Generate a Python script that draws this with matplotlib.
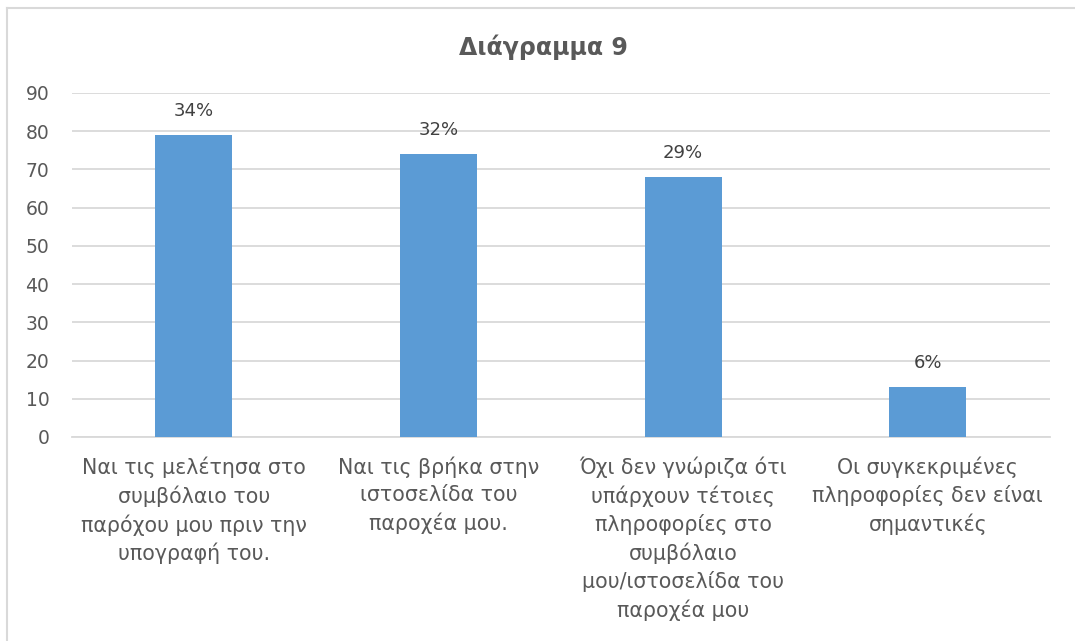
import matplotlib.pyplot as plt
from matplotlib.lines import Line2D

categories = [
    "Ναι τις μελέτησα στο\nσυμβόλαιο του\nπαρόχου μου πριν την\nυπογραφή του.",
    "Ναι τις βρήκα στην\nιστοσελίδα του\nπαροχέα μου.",
    "Όχι δεν γνώριζα ότι\nυπάρχουν τέτοιες\nπληροφορίες στο\nσυμβόλαιο\nμου/ιστοσελίδα του\nπαροχέα μου",
    "Οι συγκεκριμένες\nπληροφορίες δεν είναι\nσημαντικές",
]
counts = [79, 74, 68, 13]
percent_labels = ["34%", "32%", "29%", "6%"]
yticks = [0, 10, 20, 30, 40, 50, 60, 70, 80, 90]

plt.rcParams['font.family'] = ['DejaVu Sans']

fig = plt.figure(figsize=(10.75, 6.41), dpi=100)
# chart frame: only its top and left sides fall inside the picture
fx, fy = 7 / 1075, 1 - 8 / 641
fig.add_artist(Line2D([fx, 1.0], [fy, fy], transform=fig.transFigure,
                      color='#D9D9D9', linewidth=1.5))
fig.add_artist(Line2D([fx, fx], [0.0, fy], transform=fig.transFigure,
                      color='#D9D9D9', linewidth=1.5))

ax = fig.add_axes([71.5 / 1075, 1 - 437 / 641, (1050 - 71.5) / 1075, (437 - 93) / 641])
x = range(len(counts))
bars = ax.bar(x, counts, width=0.315, color='#5B9BD5', zorder=3)

for b, lab in zip(bars, percent_labels):
    ax.annotate(lab, (b.get_x() + b.get_width() / 2, b.get_height()),
                xytext=(0, 11), textcoords='offset points', ha='center', va='bottom',
                fontsize=13, color='#404040')

ax.set_xlim(-0.5, len(counts) - 0.5)
ax.set_ylim(0, 90)
ax.set_yticks(yticks)
ax.set_xticks(list(x))
ax.set_xticklabels(categories, fontsize=14.8, color='#595959', linespacing=1.42)
ax.tick_params(axis='y', labelsize=13.5, labelcolor='#595959', length=0, pad=16)
ax.tick_params(axis='x', length=0, pad=14)
ax.grid(axis='y', color='#D9D9D9', linewidth=1.3, zorder=0)
for s in ['top', 'right', 'left']:
    ax.spines[s].set_visible(False)
ax.spines['bottom'].set_color('#D9D9D9')
ax.spines['bottom'].set_linewidth(1.3)

fig.text(543 / 1075, 1 - 47 / 641, "Διάγραμμα 9", ha='center', va='center',
         fontsize=17, fontweight='bold', color='#595959')

fig.savefig('out.png', dpi=100)
